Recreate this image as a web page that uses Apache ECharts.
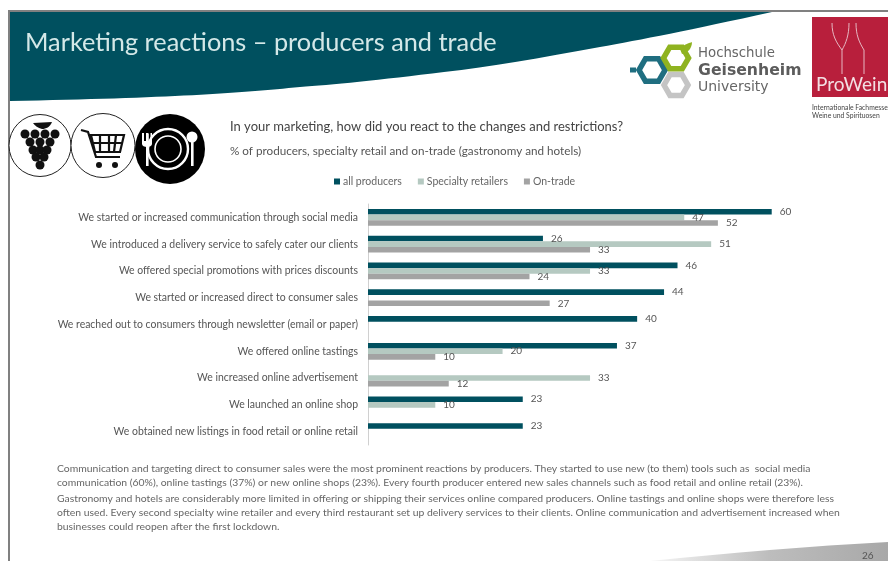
<!DOCTYPE html>
<html><head><meta charset="utf-8">
<style>html,body{margin:0;padding:0;background:#fff}#c{width:888px;height:561px}</style>
<script src="https://cdn.jsdelivr.net/npm/echarts@6/dist/echarts.min.js"></script>
</head><body><div id="c"></div>
<script>
const categories = [
 "We started or increased communication through social media",
 "We introduced a delivery service to safely cater our clients",
 "We offered special promotions with prices discounts",
 "We started or increased direct to consumer sales",
 "We reached out to consumers through newsletter (email or paper)",
 "We offered online tastings",
 "We increased online advertisement",
 "We launched an online shop",
 "We obtained new listings in food retail or online retail"];
const allProducers = [60,26,46,44,40,37,null,23,23];
const specialtyRetailers = [47,51,33,null,null,20,33,10,null];
const onTrade = [52,33,24,27,null,10,12,null,null];
const seriesNames = ["all producers","Specialty retailers","On-trade"];
const titleText = "Marketing reactions – producers and trade";
const question = "In your marketing, how did you react to the changes and restrictions?";
const subtitle = "% of producers, specialty retail and on-trade (gastronomy and hotels)";
const bodyLines = [
 "Communication and targeting direct to consumer sales were the most prominent reactions by producers. They started to use new (to them) tools such as  social media",
 "communication (60%), online tastings (37%) or new online shops (23%). Every fourth producer entered new sales channels such as food retail and online retail (23%).",
 "Gastronomy and hotels are considerably more limited in offering or shipping their services online compared producers. Online tastings and online shops were therefore less",
 "often used. Every second specialty wine retailer and every third restaurant set up delivery services to their clients. Online communication and advertisement increased when",
 "businesses could reopen after the first lockdown."];
const pageNumber = "26";

const F = "Lato";
const T = (x,y,text,size,fill,extra) => ({type:'text',x,y,style:Object.assign({text,fontFamily:F,fontSize:size,fill,verticalAlign:'middle'},extra||{})});
const hex = (cx,cy,r,stroke,w) => ({type:'polygon',shape:{points:[0,1,2,3,4,5].map(i=>[cx+r*Math.cos(i*Math.PI/3),cy+r*Math.sin(i*Math.PI/3)])},style:{fill:'none',stroke,lineWidth:w}});
const circ = (cx,cy,r,fill,stroke,w) => ({type:'circle',shape:{cx,cy,r},style:{fill,stroke:stroke||null,lineWidth:w||0}});
const line = (x1,y1,x2,y2,stroke,w) => ({type:'line',shape:{x1,y1,x2,y2},style:{stroke,lineWidth:w}});
const rect = (x,y,width,height,fill) => ({type:'rect',shape:{x,y,width,height},style:{fill}});
const path = (pathData,style) => ({type:'path',shape:{pathData},style});

const grapes = [[25,134],[35,134],[45,134],[55,134],[30,142],[40,142],[50,142],[33,150],[40,150],[47,150],[36,157],[44,157],[40,165]]
  .map(p=>circ(p[0],p[1],4.5,'#111'));
const deco = [
 path('M10 12 L772 12 C690 30 640 40 600 47 C540 58 490 67 444 72 C380 80 330 85 300 87 C240 93 170 98 10 101 Z',{fill:'#00505f'}),
 line(9,11,888,11,'#808080',2), line(9,10,9,561,'#808080',2),
 path('M650 561 C730 553 810 546 888 542 L888 561 Z',{fill:{type:'linear',x:0,y:0,x2:1,y2:0,colorStops:[{offset:0,color:'#f6f6f6'},{offset:0.5,color:'#bdbdbd'},{offset:1,color:'#a8a8a8'}]}}),
 T(25,43,titleText,25.3,'#d4e8e8'),
 T(230,127,question,13,'#444'),
 T(230,151,subtitle,11.7,'#555'),
 circ(40,145.5,31,'#fff','#222',1),
 path('M33 123 L52 122 C50 127 46 129 42 129 C38 128 35 126 33 123 Z',{fill:'#111'}),
 ...grapes,
 circ(103,145.5,32,'#fff','#222',1),
 path('M81 130 L88 132 L96 157 L120 157 M91 135 L124 135 L120 152 L95 152 Z M100 135 L100 152 M109 135 L109 152 M116 135 L114 152 M93 143 L122 143',{fill:'none',stroke:'#111',lineWidth:2.2}),
 circ(99,165,3,'#111'), circ(115,165,3,'#111'),
 circ(170,149,35,'#000'),
 circ(168,149,20,'none','#fff',2.4), circ(168,149,13,'none','#fff',1.6),
 rect(146,134,2.6,32,'#fff'),
 path('M142 133 L142 144 C142 148 152 148 152 144 L152 133 L150.5 133 L150.5 141 L148.5 141 L148.5 133 L146 133 L146 141 L144 141 L144 133 Z',{fill:'#fff'}),
 circ(192,137,5.5,'#fff'), rect(191,140,2.6,26,'#fff'),
 hex(652,70,13,'#1f6e80',5.5), line(636,70,630,70,'#1f6e80',5),
 hex(676,85,12,'#c4c4c4',5.5), hex(676,58,12.5,'#8fb320',5.5),
 path('M680 49 C684 44 690 43 692 42 C692 48 688 53 682 54 Z',{fill:'#8fb320'}),
 T(698,54,'Hochschule',13.3,'#666',{fontFamily:'DejaVu Sans'}),
 T(698,71,'Geisenheim',15.7,'#5c5c5c',{fontFamily:'DejaVu Sans',fontWeight:'bold'}),
 T(698,87,'University',14,'#666',{fontFamily:'DejaVu Sans'}),
 rect(812,17,76,80,'#b81f3c'),
 path('M832 23 C832 35 836 42 842 50 L842 74 M856 23 C856 35 859 42 864 50 L864 74 M849 23 C849 35 846 43 842 50',{fill:'none',stroke:'#e6b8c2',lineWidth:1}),
 T(816,85,'ProWein',19,'#f3dfe3'),
 T(812,108,'Internationale Fachmesse',6.8,'#444'),
 T(812,116,'Weine und Spirituosen',6.8,'#444'),
 ...bodyLines.map((s,i)=>T(57,[469,483,499,513,527][i],s,10.4,'#666')),
 T(862,556,pageNumber,10,'#555')
];
const labelStyle = {show:true,position:'right',distance:8,fontFamily:F,fontSize:10,color:'#555'};
const mk = (name,data,color)=>({name,type:'bar',data,barWidth:5.6,barGap:0,silent:true,itemStyle:{color},label:labelStyle,z:3});
const chart = echarts.init(document.getElementById('c'),null,{renderer:'canvas'});
chart.setOption({
 animation:false,
 backgroundColor:'#fff',
 legend:{show:true,left:329,top:171,itemWidth:6,itemHeight:6,itemGap:16,icon:'rect',selectedMode:false,
   textStyle:{fontFamily:F,fontSize:10.5,color:'#666',padding:[0,0,0,-2]},data:seriesNames},
 grid:{left:368,top:204,width:471,height:241},
 xAxis:{type:'value',min:0,max:70,show:false},
 yAxis:{type:'category',inverse:true,data:categories,
   axisLine:{show:true,lineStyle:{color:'#d0d0d0',width:1}},axisTick:{show:false},
   axisLabel:{fontFamily:F,fontSize:10.45,color:'#555',margin:10,interval:0}},
 series:[
   {type:'custom',coordinateSystem:'none',silent:true,z:1,data:[0],renderItem:()=>({type:'group',children:deco})},
   mk(seriesNames[0],allProducers,'#00505f'),mk(seriesNames[1],specialtyRetailers,'#b5c9c1'),mk(seriesNames[2],onTrade,'#a3a3a3')]
});
</script></body></html>
